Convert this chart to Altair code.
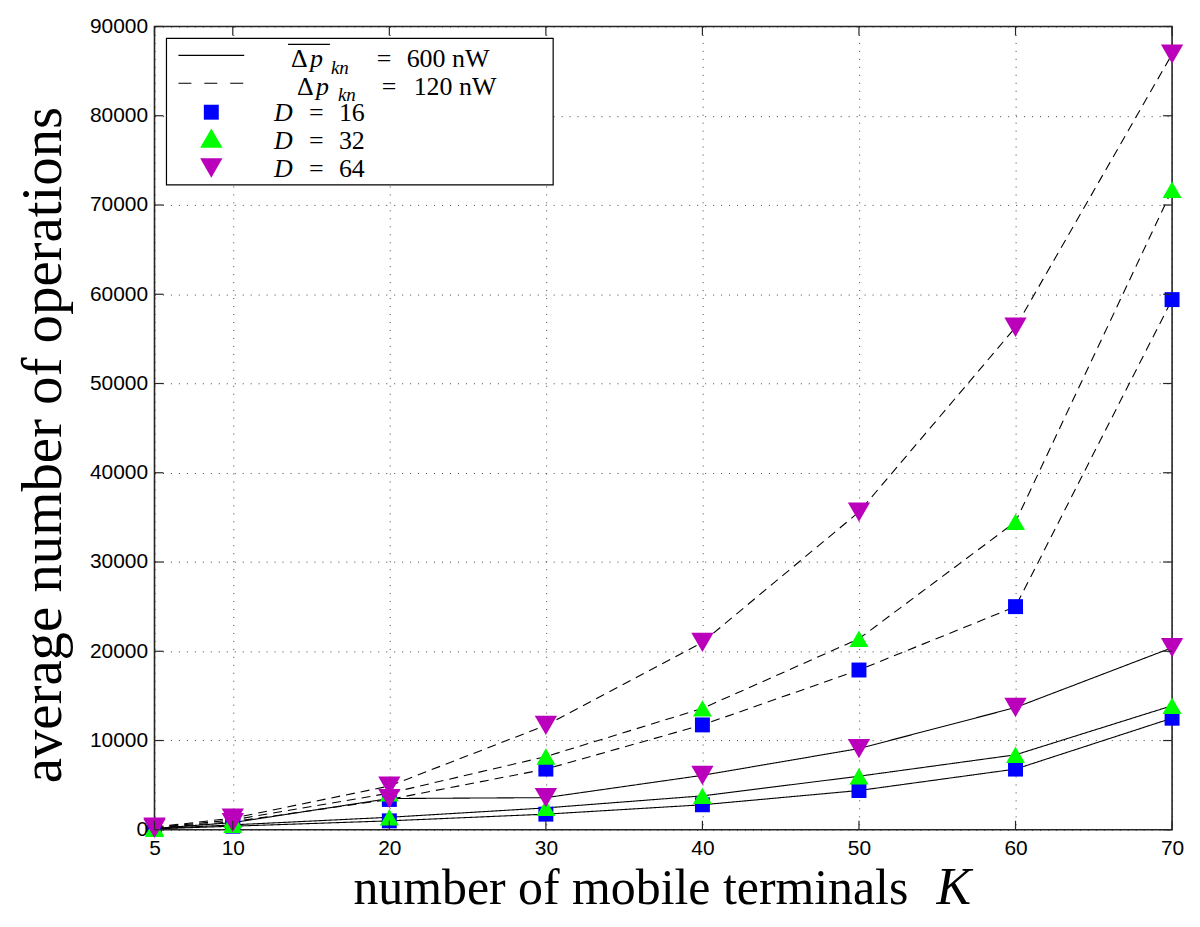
import altair as alt
import pandas as pd

K = [5, 10, 20, 30, 40, 50, 60, 70]
d16_600 = [100, 400, 1000, 1750, 2800, 4400, 6800, 12500]
d32_600 = [120, 550, 1400, 2450, 3800, 6000, 8400, 13900]
d64_600 = [150, 800, 3500, 3600, 6100, 9100, 13700, 20400]
d16_120 = [200, 900, 3400, 6800, 11750, 17900, 25000, 59400]
d32_120 = [250, 1100, 4100, 8200, 13600, 21400, 34500, 71700]
d64_120 = [300, 1300, 4900, 11700, 21000, 35600, 56300, 86900]

x_ticks = [5, 10, 20, 30, 40, 50, 60, 70]
y_ticks = [0, 10000, 20000, 30000, 40000, 50000, 60000, 70000, 80000, 90000]

D_levels = ["16", "32", "64"]
D_shapes = ["square", "triangle-up", "triangle-down"]
D_colors = ["#0000FF", "#00FF00", "#BB00BB"]
D_sizes = [225, 500, 500]

series = [
    ("16", "600", d16_600), ("16", "120", d16_120),
    ("32", "600", d32_600), ("32", "120", d32_120),
    ("64", "600", d64_600), ("64", "120", d64_120),
]
rows = []
for d, p, vals in series:
    for k, v in zip(K, vals):
        rows.append({"K": k, "ops": v, "D": d, "P": p, "series": d + "_" + p})
df = pd.DataFrame(rows)

W, H = 1021, 806
xscale = alt.Scale(domain=[5, 70], nice=False, zero=False)
yscale = alt.Scale(domain=[0, 90000], nice=False)

xaxis = alt.Axis(values=x_ticks, title=None, grid=True, ticks=False, domain=False,
                 gridDash=[1, 7], gridColor="#222222", gridOpacity=0.85, gridWidth=1,
                 labelFont="Liberation Sans", labelFontSize=21, labelColor="black",
                 labelPadding=8, labelFlush=False)
yaxis = alt.Axis(values=y_ticks, title=None, grid=True, ticks=False, domain=False, format="d",
                 gridDash=[1, 7], gridColor="#222222", gridOpacity=0.85, gridWidth=1,
                 labelFont="Liberation Sans", labelFontSize=21, labelColor="black",
                 labelPadding=7, labelFlush=False)

shape_enc = alt.Shape("D:N", scale=alt.Scale(domain=D_levels, range=D_shapes), legend=None)
color_enc = alt.Color("D:N", scale=alt.Scale(domain=D_levels, range=D_colors), legend=None)
size_enc = alt.Size("D:N", scale=alt.Scale(domain=D_levels, range=D_sizes), legend=None)

lines = alt.Chart(df).mark_line(color="black", strokeWidth=1.1).encode(
    x=alt.X("K:Q", scale=xscale, axis=xaxis),
    y=alt.Y("ops:Q", scale=yscale, axis=yaxis),
    detail="series:N",
    strokeDash=alt.StrokeDash("P:N", scale=alt.Scale(domain=["600", "120"], range=[[1, 0], [9, 6]]), legend=None),
)

points = alt.Chart(df).mark_point(filled=True, opacity=1, strokeWidth=0).encode(
    x=alt.X("K:Q", scale=xscale, axis=xaxis),
    y=alt.Y("ops:Q", scale=yscale, axis=yaxis),
    shape=shape_enc, color=color_enc, size=size_enc,
)

ytdf = pd.DataFrame({"K": [5] * len(y_ticks), "ops": y_ticks})
xtdf = pd.DataFrame({"K": x_ticks, "ops": [0] * len(x_ticks)})
tick_color = "#262626"
yl = alt.Chart(ytdf).mark_rule(color=tick_color, strokeWidth=1.2).encode(
    y=alt.Y("ops:Q", scale=yscale, axis=yaxis), x=alt.value(0), x2=alt.value(9))
yr = alt.Chart(ytdf).mark_rule(color=tick_color, strokeWidth=1.2).encode(
    y=alt.Y("ops:Q", scale=yscale, axis=yaxis), x=alt.value(W - 9), x2=alt.value(W))
xb = alt.Chart(xtdf).mark_rule(color=tick_color, strokeWidth=1.2).encode(
    x=alt.X("K:Q", scale=xscale, axis=xaxis), y=alt.value(H), y2=alt.value(H - 9))
xt = alt.Chart(xtdf).mark_rule(color=tick_color, strokeWidth=1.2).encode(
    x=alt.X("K:Q", scale=xscale, axis=xaxis), y=alt.value(0), y2=alt.value(9))

one = pd.DataFrame({"a": [0]})


def txt(s, x, y, size, italic=False, align="left", angle=0, baseline="alphabetic"):
    kw = dict(font="Liberation Serif", fontSize=size, align=align, baseline=baseline, color="black")
    if italic:
        kw["fontStyle"] = "italic"
    if angle:
        kw["angle"] = angle
    return alt.Chart(one).mark_text(**kw).encode(x=alt.value(x), y=alt.value(y), text=alt.value(s))


xtitle = txt("number of mobile terminals", 478, 880, 50, align="center")
xtitleK = txt("K", 802, 880, 52, italic=True, align="center")
ytitle = txt("average number of operations", -111, 420, 57, align="center", angle=270, baseline="middle")

legend_box = alt.Chart(one).mark_rect(fill="white", stroke="black", strokeWidth=1.2).encode(
    x=alt.value(12), x2=alt.value(400), y=alt.value(12), y2=alt.value(159))
leg_solid = alt.Chart(one).mark_rule(color="black", strokeWidth=1.1).encode(
    x=alt.value(24), x2=alt.value(90), y=alt.value(29))
leg_dash = alt.Chart(one).mark_rule(color="black", strokeWidth=1.1, strokeDash=[13, 13]).encode(
    x=alt.value(24), x2=alt.value(90), y=alt.value(57))
leg_bar = alt.Chart(one).mark_rule(color="black", strokeWidth=1.3).encode(
    x=alt.value(134), x2=alt.value(176), y=alt.value(18))

leg_markers = []
for lvl, shp, col, sz, ly in zip(D_levels, D_shapes, D_colors, D_sizes, [86, 112, 142]):
    leg_markers.append(
        alt.Chart(one).mark_point(filled=True, opacity=1, strokeWidth=0, shape=shp, color=col, size=sz).encode(
            x=alt.value(57), y=alt.value(ly))
    )

FS = 26
leg_texts = [
    txt("Δ", 137, 41, FS), txt("p", 156, 41, FS, italic=True), txt("kn", 177, 48, 19, italic=True),
    txt("=", 223, 41, FS), txt("600 nW", 253, 41, FS),
    txt("Δ", 143, 69, FS), txt("p", 162, 69, FS, italic=True), txt("kn", 184, 75, 19, italic=True),
    txt("=", 228, 69, FS), txt("120 nW", 260, 69, FS),
]
for num, by in zip(["16", "32", "64"], [95, 123, 151]):
    leg_texts += [txt("D", 120, by, FS, italic=True), txt("=", 155, by, FS), txt(num, 185, by, FS)]

chart = alt.layer(
    lines, points, yl, yr, xb, xt,
    legend_box, leg_solid, leg_dash, leg_bar, *leg_markers, *leg_texts,
    xtitle, xtitleK, ytitle,
).properties(
    width=W, height=H,
    autosize=alt.AutoSizeParams(type="none"),
    padding={"left": 147, "top": 17, "right": 20, "bottom": 95},
    background="white",
).configure_view(stroke="#262626", strokeWidth=1.6)

chart.save("out.html", embed_options={"renderer": "svg", "actions": False})
